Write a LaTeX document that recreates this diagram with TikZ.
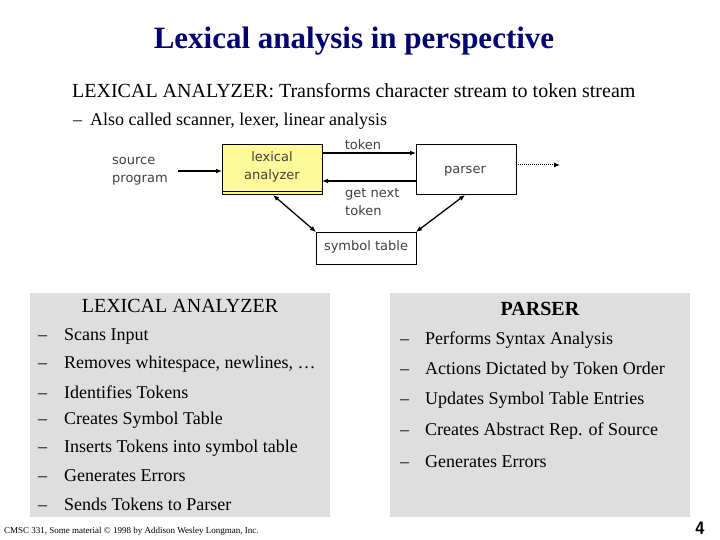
\documentclass[tikz,border=0pt]{standalone}
\usepackage{fontspec}
\setmainfont{Liberation Serif}
\newfontfamily\vfont{DejaVu Sans}
\usetikzlibrary{arrows.meta}
\begin{document}
\begin{tikzpicture}[x=1pt,y=-1pt,
  lbl/.style={font=\vfont\fontsize{13}{18}\selectfont,color=black!75,align=left,inner sep=0},
  bx/.style={draw,line width=0.8pt,minimum width=100pt,minimum height=50pt,anchor=north west},
  arr/.style={line width=1.3pt,-{Latex[length=6pt,width=5pt]}},
  darr/.style={line width=1.3pt,{Latex[length=6pt,width=5pt]}-{Latex[length=6pt,width=5pt]}},
  panel/.style={fill=black!13,anchor=north west,minimum width=300pt,minimum height=224pt,inner sep=0},
  item/.style={anchor=west,font=\fontsize{18}{20}\selectfont,inner sep=0},
  ptitle/.style={font=\fontsize{20}{22}\selectfont,inner sep=0}]
\useasboundingbox (0,0) rectangle (720,540);
\node[font=\bfseries\fontsize{31}{35}\selectfont,color=blue!45!black] (title) at (354,41) {Lexical analysis in perspective};
\node[anchor=west,font=\fontsize{20}{22}\selectfont,inner sep=0] (l1) at (72,91) {LEXICAL ANALYZER: Transforms character stream to token stream};
\node[anchor=west,font=\fontsize{18}{20}\selectfont,inner sep=0] (l2) at (73,121) {–\hspace{8pt}Also called scanner, lexer, linear analysis};
% diagram
\node[bx,fill=yellow!40] (lex) at (222,144) {};
\draw[line width=0.8pt] (222,191) -- (322,191);
\node[lbl,align=center] at (272,167) {lexical\\analyzer};
\node[bx] (par) at (416,144) {};
\node[lbl] at (465,171) {parser};
\node[bx,minimum height=32pt] (sym) at (316,232) {};
\node[lbl] at (366,247) {symbol table};
\node[lbl,anchor=west] (src) at (112,171) {source\\program};
\coordinate (s1) at (178,171);
\draw[arr] (s1) -- (222,171);
\draw[arr] (322,153) -- (416,153);
\node[lbl] at (363,145) {token};
\draw[arr] (416,181) -- (322,181);
\node[lbl,anchor=west] at (345,202) {get next\\token};
\draw[line width=1pt,densely dotted,-{Latex[length=6pt,width=5pt]}] (516,165) -- (560,165);
\draw[darr] (273,195) -- (316,232);
\draw[darr] (465,195) -- (416,232);
% panels
\node[panel] (pl) at (30,293) {};
\node[panel] (pr) at (390,293) {};
\fill[white] (0,519) rectangle (720,540);
\node[ptitle] at (180,306) {LEXICAL ANALYZER};
\node[ptitle] at (540,309) {\bfseries PARSER};
\foreach \t [count=\i] in {Scans Input,{Removes whitespace, newlines, \dots},Identifies Tokens,Creates Symbol Table,Inserts Tokens into symbol table,Generates Errors,Sends Tokens to Parser}
  \node[item] at (38,336+28*\i-28) {–\hspace{17pt}\t};
\foreach \t [count=\i] in {Performs Syntax Analysis,Actions Dictated by Token Order,Updates Symbol Table Entries,Creates Abstract Rep. of Source,Generates Errors}
  \node[item] at (400,340+30.3*\i-30.3) {–\hspace{16pt}\t};
\node[anchor=west,font=\fontsize{9}{10}\selectfont,inner sep=0] at (4,531) {CMSC 331, Some material \textcopyright{} 1998 by Addison Wesley Longman, Inc.};
\node[font=\sffamily\bfseries\fontsize{18}{20}\selectfont,inner sep=0] at (700,528) {4};
\end{tikzpicture}
\end{document}
